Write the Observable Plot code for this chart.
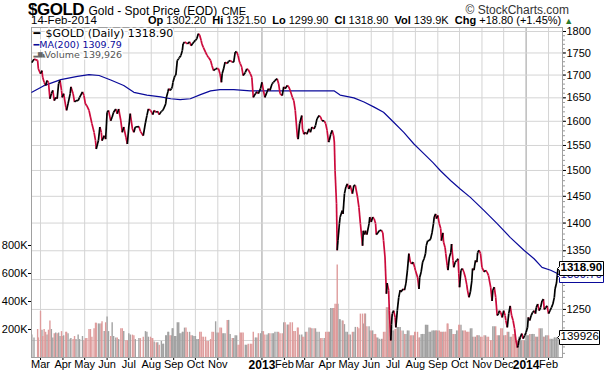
<!DOCTYPE html>
<html><head><meta charset="utf-8">
<script src="https://cdn.jsdelivr.net/npm/d3@7"></script>
<script src="https://cdn.jsdelivr.net/npm/@observablehq/plot@0.6"></script>
<style>
body{margin:0;background:#fff;}
#wrap{position:relative;width:607px;height:371px;overflow:hidden;font-family:"Liberation Sans",Arial,sans-serif;}
#wrap svg{position:absolute;left:0;top:0;}
.hdr{position:absolute;white-space:nowrap;color:#000;line-height:1;}
</style></head><body>
<div id="wrap"></div>
<script>
// ---------- data ----------
const dates = ["2012-02-18","2012-02-21","2012-02-26","2012-02-27","2012-03-01","2012-03-03","2012-03-04","2012-03-06","2012-03-08","2012-03-10","2012-03-12","2012-03-14","2012-03-16","2012-03-18","2012-03-20","2012-03-22","2012-03-24","2012-03-26","2012-03-28","2012-03-30","2012-03-31","2012-04-02","2012-04-05","2012-04-06","2012-04-08","2012-04-11","2012-04-12","2012-04-15","2012-04-17","2012-04-19","2012-04-22","2012-04-24","2012-04-28","2012-04-30","2012-05-02","2012-05-04","2012-05-07","2012-05-09","2012-05-11","2012-05-14","2012-05-16","2012-05-17","2012-05-20","2012-05-22","2012-05-24","2012-05-25","2012-05-28","2012-05-30","2012-06-01","2012-06-03","2012-06-06","2012-06-08","2012-06-10","2012-06-13","2012-06-15","2012-06-17","2012-06-20","2012-06-22","2012-06-24","2012-06-27","2012-06-29","2012-07-01","2012-07-03","2012-07-06","2012-07-08","2012-07-10","2012-07-15","2012-07-17","2012-07-21","2012-07-24","2012-07-26","2012-07-28","2012-07-31","2012-08-02","2012-08-03","2012-08-05","2012-08-08","2012-08-10","2012-08-12","2012-08-15","2012-08-17","2012-08-18","2012-08-21","2012-08-22","2012-08-24","2012-08-25","2012-08-27","2012-08-29","2012-08-30","2012-08-31","2012-09-02","2012-09-03","2012-09-04","2012-09-06","2012-09-08","2012-09-09","2012-09-11","2012-09-13","2012-09-14","2012-09-16","2012-09-18","2012-09-20","2012-09-23","2012-09-25","2012-09-27","2012-09-29","2012-10-01","2012-10-03","2012-10-05","2012-10-07","2012-10-09","2012-10-10","2012-10-12","2012-10-15","2012-10-17","2012-10-19","2012-10-22","2012-10-24","2012-10-26","2012-10-29","2012-10-31","2012-11-02","2012-11-04","2012-11-06","2012-11-07","2012-11-09","2012-11-11","2012-11-14","2012-11-16","2012-11-18","2012-11-21","2012-11-23","2012-11-25","2012-11-27","2012-11-29","2012-12-01","2012-12-02","2012-12-04","2012-12-06","2012-12-09","2012-12-11","2012-12-13","2012-12-16","2012-12-18","2012-12-20","2012-12-23","2012-12-25","2012-12-27","2012-12-30","2013-01-01","2013-01-03","2013-01-05","2013-01-08","2013-01-10","2013-01-12","2013-01-15","2013-01-17","2013-01-19","2013-01-22","2013-01-24","2013-01-26","2013-01-29","2013-01-31","2013-02-02","2013-02-05","2013-02-07","2013-02-09","2013-02-12","2013-02-14","2013-02-16","2013-02-19","2013-02-20","2013-02-22","2013-02-25","2013-02-26","2013-02-28","2013-03-02","2013-03-04","2013-03-07","2013-03-09","2013-03-11","2013-03-14","2013-03-16","2013-03-18","2013-03-21","2013-03-23","2013-03-25","2013-03-28","2013-03-30","2013-04-01","2013-04-03","2013-04-04","2013-04-06","2013-04-08","2013-04-10","2013-04-11","2013-04-12","2013-04-14","2013-04-15","2013-04-16","2013-04-18","2013-04-19","2013-04-22","2013-04-23","2013-04-25","2013-04-27","2013-04-29","2013-05-01","2013-05-03","2013-05-06","2013-05-08","2013-05-10","2013-05-13","2013-05-15","2013-05-17","2013-05-20","2013-05-21","2013-05-23","2013-05-24","2013-05-26","2013-05-29","2013-05-30","2013-06-01","2013-06-03","2013-06-05","2013-06-07","2013-06-08","2013-06-10","2013-06-12","2013-06-15","2013-06-17","2013-06-18","2013-06-20","2013-06-22","2013-06-23","2013-06-25","2013-06-26","2013-06-28","2013-06-29","2013-06-30","2013-07-02","2013-07-04","2013-07-05","2013-07-07","2013-07-09","2013-07-11","2013-07-12","2013-07-15","2013-07-17","2013-07-19","2013-07-21","2013-07-23","2013-07-25","2013-07-27","2013-07-29","2013-07-31","2013-08-01","2013-08-04","2013-08-06","2013-08-07","2013-08-09","2013-08-11","2013-08-13","2013-08-15","2013-08-16","2013-08-18","2013-08-20","2013-08-22","2013-08-24","2013-08-26","2013-08-27","2013-08-29","2013-08-30","2013-09-01","2013-09-03","2013-09-05","2013-09-06","2013-09-08","2013-09-09","2013-09-11","2013-09-12","2013-09-14","2013-09-15","2013-09-17","2013-09-19","2013-09-20","2013-09-22","2013-09-23","2013-09-25","2013-09-27","2013-09-29","2013-09-30","2013-10-01","2013-10-03","2013-10-05","2013-10-07","2013-10-09","2013-10-11","2013-10-12","2013-10-14","2013-10-16","2013-10-18","2013-10-19","2013-10-21","2013-10-23","2013-10-25","2013-10-26","2013-10-28","2013-10-30","2013-11-01","2013-11-04","2013-11-06","2013-11-08","2013-11-10","2013-11-13","2013-11-15","2013-11-16","2013-11-18","2013-11-20","2013-11-22","2013-11-24","2013-11-25","2013-11-27","2013-11-29","2013-12-01","2013-12-03","2013-12-04","2013-12-06","2013-12-08","2013-12-10","2013-12-12","2013-12-14","2013-12-16","2013-12-18","2013-12-20","2013-12-21","2013-12-22","2013-12-24","2013-12-26","2013-12-28","2013-12-30","2014-01-01","2014-01-03","2014-01-04","2014-01-06","2014-01-08","2014-01-10","2014-01-12","2014-01-14","2014-01-15","2014-01-17","2014-01-19","2014-01-21","2014-01-23","2014-01-25","2014-01-26","2014-01-28","2014-01-30","2014-02-01","2014-02-03","2014-02-05","2014-02-07","2014-02-09","2014-02-10","2014-02-12","2014-02-14"];
const closes = [1728,1736,1733,1714,1703,1710,1695,1684,1677,1688,1684,1648,1659,1666,1644,1651,1648,1681,1688,1666,1651,1659,1630,1623,1637,1659,1674,1659,1641,1644,1644,1651,1663,1655,1637,1633,1623,1609,1595,1577,1560,1543,1560,1588,1577,1560,1570,1563,1619,1623,1601,1609,1619,1626,1616,1626,1601,1577,1588,1567,1553,1588,1616,1584,1577,1588,1589,1579,1570,1597,1612,1626,1623,1618,1614,1623,1619,1621,1614,1621,1623,1626,1637,1651,1663,1670,1666,1670,1674,1684,1695,1699,1700,1733,1737,1740,1744,1756,1771,1775,1774,1771,1776,1767,1771,1776,1779,1783,1795,1791,1779,1771,1763,1752,1745,1740,1733,1721,1710,1714,1715,1714,1703,1684,1703,1714,1729,1726,1731,1733,1729,1729,1752,1753,1744,1729,1726,1718,1699,1706,1714,1712,1703,1695,1651,1659,1663,1659,1670,1684,1666,1651,1663,1670,1666,1681,1684,1688,1692,1681,1659,1655,1674,1670,1677,1674,1666,1651,1644,1623,1567,1563,1595,1612,1584,1573,1577,1573,1584,1577,1588,1584,1591,1605,1612,1609,1601,1601,1595,1581,1557,1560,1573,1581,1570,1557,1500,1436,1351,1368,1399,1411,1423,1417,1455,1468,1474,1464,1471,1455,1471,1471,1449,1429,1399,1359,1386,1379,1386,1379,1399,1411,1402,1411,1408,1399,1379,1382,1386,1387,1382,1368,1339,1276,1294,1282,1248,1200,1226,1243,1248,1237,1221,1248,1270,1282,1279,1284,1282,1294,1316,1345,1330,1327,1330,1321,1316,1304,1284,1304,1313,1330,1336,1345,1359,1368,1368,1371,1382,1399,1411,1417,1408,1414,1399,1390,1368,1382,1365,1356,1345,1324,1316,1339,1347,1362,1333,1321,1330,1333,1336,1310,1287,1316,1319,1313,1304,1291,1282,1270,1279,1298,1319,1316,1333,1330,1347,1351,1345,1321,1313,1316,1313,1307,1287,1264,1282,1287,1270,1240,1243,1248,1245,1237,1248,1240,1232,1221,1243,1256,1240,1232,1219,1200,1189,1192,1200,1205,1211,1203,1208,1213,1221,1237,1232,1240,1245,1248,1243,1253,1259,1248,1253,1264,1267,1250,1253,1256,1243,1248,1253,1259,1270,1284,1294,1318.9];
// volume, thousands
const volumes = [160,140,200,140,330,195,150,200,180,160,195,260,200,140,170,175,170,175,150,185,150,155,180,180,170,130,135,128,150,128,160,128,150,120,135,135,200,200,145,205,245,245,240,240,240,255,185,248,290,185,150,248,150,140,140,128,205,205,185,120,120,170,160,160,155,128,135,135,145,185,180,145,145,135,135,110,105,105,88,115,95,95,155,155,180,180,155,155,205,205,150,150,150,248,248,170,170,180,180,210,210,180,180,155,155,150,150,128,128,180,180,145,145,145,115,115,128,180,180,255,175,175,210,210,170,170,170,265,265,165,135,135,155,155,88,88,175,175,175,88,88,95,95,95,180,140,140,170,170,185,185,160,160,170,170,170,170,180,180,180,170,170,248,248,232,232,248,248,185,185,210,210,160,160,145,145,180,180,210,210,205,205,205,180,180,135,135,135,180,180,180,180,350,350,350,350,380,380,660,380,270,270,260,260,235,180,180,160,160,180,180,215,215,205,310,310,240,310,310,220,220,190,190,190,165,165,140,140,130,130,130,180,180,355,355,355,355,215,215,190,190,200,200,215,215,215,190,190,165,165,190,190,155,155,155,180,180,180,140,140,165,165,165,230,230,230,180,180,190,190,190,190,190,190,190,180,180,180,180,180,180,240,240,200,200,200,165,165,165,190,190,230,230,230,190,190,190,180,180,180,205,205,145,145,145,155,155,155,145,145,155,155,145,145,120,120,220,220,220,155,155,155,205,205,155,155,155,180,180,145,145,165,165,120,120,120,145,145,120,120,120,155,155,155,165,165,165,165,145,145,145,205,205,205,145,145,155,155,155,130,130,130,140,140,140,139.926];
// 200-day moving average
const maDates = ["2012-02-18","2012-03-05","2012-03-29","2012-04-21","2012-05-07","2012-05-21","2012-06-06","2012-06-24","2012-07-08","2012-07-26","2012-08-14","2012-08-28","2012-09-10","2012-09-24","2012-10-08","2012-10-22","2012-11-04","2012-11-23","2012-12-16","2013-02-09","2013-04-11","2013-04-19","2013-05-08","2013-05-22","2013-06-05","2013-06-18","2013-07-02","2013-07-16","2013-07-30","2013-08-13","2013-08-25","2013-09-05","2013-09-19","2013-10-02","2013-10-16","2013-11-04","2013-11-22","2013-12-10","2013-12-29","2014-01-12","2014-01-23","2014-02-04","2014-02-14"];
const maValues = [1662,1676,1690,1697,1701,1699,1689,1677,1662,1656,1652,1648,1646,1648,1657,1665,1668,1668,1665,1665,1665,1656,1650,1641,1630,1619,1598,1577,1553,1533,1516,1499,1480,1464,1448,1423,1399,1374,1351,1336,1321,1316,1309.79];
// axis ticks and labels
const priceTicks = [1200,1250,1300,1350,1400,1450,1500,1550,1600,1650,1700,1750,1800];
const priceMinorTicks = [1180,1190,1200,1210,1220,1230,1240,1250,1260,1270,1280,1290,1300,1310,1320,1330,1340,1350,1360,1370,1380,1390,1400,1410,1420,1430,1440,1450,1460,1470,1480,1490,1500,1510,1520,1530,1540,1550,1560,1570,1580,1590,1600,1610,1620,1630,1640,1650,1660,1670,1680,1690,1700,1710,1720,1730,1740,1750,1760,1770,1780,1790,1800];
const volumeTicks = [200,400,600,800];
const monthTicks = ["2012-03-01","2012-04-01","2012-05-01","2012-06-01","2012-07-01","2012-08-01","2012-09-01","2012-10-01","2012-11-01","2012-12-01","2013-02-01","2013-03-01","2013-04-01","2013-05-01","2013-06-01","2013-07-01","2013-08-01","2013-09-01","2013-10-01","2013-11-01","2013-12-01","2014-02-01"];
const monthLabelTicks = ["2012-03-01","2012-04-01","2012-05-01","2012-06-01","2012-07-01","2012-08-01","2012-09-01","2012-10-01","2012-11-01","2013-02-01","2013-03-01","2013-04-01","2013-05-01","2013-06-01","2013-07-01","2013-08-01","2013-09-01","2013-10-01","2013-11-01","2013-12-01","2014-02-01"];
const yearTicks = ["2013-01-01","2014-01-01"];
const symbol = "$GOLD", lastClose = "1318.90", lastMA = "1309.79", lastVolume = "139926";
const legendPrice = "$GOLD (Daily) 1318.90", legendMA = "MA(200) 1309.79", legendVol = "Volume 139,926";

// ---------- build ----------
const P = d => new Date(d + "T00:00Z");
const rows = dates.map((d, i) => ({date: P(d), close: closes[i], vol: volumes[i], down: i > 0 && closes[i] < closes[i - 1]}));
const segs = rows.slice(1).map((r, i) => ({x1: rows[i].date, y1: rows[i].close, x2: r.date, y2: r.close, down: r.close < rows[i].close}));
const maRows = maDates.map((d, i) => ({date: P(d), ma: maValues[i]}));
const last = rows[rows.length - 1];

const W = 607, H = 371;
const xDomain = [new Date("2012-02-17T13:00Z"), new Date("2014-02-20T07:00Z")];
const common = {width: W, height: H, marginTop: 27, marginBottom: 14, marginLeft: 31, marginRight: 45};
const yPriceDomain = [1173.6, 1809.5];
const font = {fontFamily: "'Liberation Sans', Arial, sans-serif", fontSize: "11px", overflow: "visible"};

const layerGrid = Plot.plot({...common, x: {type: "utc", domain: xDomain}, y: {type: "log", domain: yPriceDomain},
  style: {...font, background: "white"},
  marks: [
    Plot.gridX(monthTicks.map(P), {stroke: "#d4d4d4", strokeOpacity: 1}),
    Plot.gridX(yearTicks.map(P), {stroke: "#9a9a9a", strokeOpacity: 1}),
    Plot.gridY(priceTicks, {stroke: "#d4d4d4", strokeOpacity: 1}),
    Plot.axisY(priceMinorTicks, {anchor: "right", tickSize: 2, text: null, label: null, stroke: "#999"}),
    Plot.axisY(priceTicks, {anchor: "right", tickSize: 3, tickPadding: 1, tickFormat: d => String(d), label: null, fontSize: 11}),
    Plot.axisX(monthLabelTicks.map(P), {anchor: "bottom", tickSize: 3, tickPadding: 0, tickFormat: d3.utcFormat("%b"), label: null, fontSize: 11}),
    Plot.axisX(yearTicks.map(P), {anchor: "bottom", tickSize: 3, tickPadding: 0, tickFormat: d3.utcFormat("%Y"), label: null, fontSize: 12, fontWeight: "bold"}),
    Plot.frame({stroke: "#a0a0a0"})
  ]});

const layerVol = Plot.plot({...common, x: {type: "utc", domain: xDomain, axis: null}, y: {domain: [0, 2357]},
  style: {...font, background: "transparent"},
  marks: [
    Plot.ruleX(rows.filter(r => !r.down), {x: "date", y1: 0, y2: "vol", stroke: "#a2a2a2", strokeWidth: 1.4}),
    Plot.ruleX(rows.filter(r => r.down), {x: "date", y1: 0, y2: "vol", stroke: "#de9c9c", strokeWidth: 1.4}),
    Plot.axisY(volumeTicks, {anchor: "left", tickSize: 3, tickPadding: 1, tickFormat: d => d + "K", label: null, fontSize: 11}),
    Plot.tip([last], {x: "date", y: "vol", title: () => lastVolume, anchor: "left", fill: "white", stroke: "black",
      fontSize: 11.5, textPadding: 1, pointerSize: 4, pathFilter: "none"})
  ]});

const layerPrice = Plot.plot({...common, x: {type: "utc", domain: xDomain, axis: null}, y: {type: "log", domain: yPriceDomain, axis: null},
  style: {...font, background: "transparent"},
  marks: [
    Plot.line(maRows, {x: "date", y: "ma", stroke: "#0a0a9a", strokeWidth: 1.2}),
    Plot.link(segs.filter(s => s.down), {x1: "x1", y1: "y1", x2: "x2", y2: "y2", stroke: "#cc0a3c", strokeWidth: 1.7}),
    Plot.link(segs.filter(s => !s.down), {x1: "x1", y1: "y1", x2: "x2", y2: "y2", stroke: "#000", strokeWidth: 1.7}),
    Plot.text([legendPrice], {frameAnchor: "top-left", dx: 14, dy: 2, fontSize: 11, fontFamily: "DejaVu Sans", fill: "#000", stroke: "white", strokeWidth: 3, paintOrder: "stroke"}),
    Plot.text(["━"], {frameAnchor: "top-left", dx: 2, dy: 2, fontSize: 11, fontFamily: "DejaVu Sans", fill: "#000"}),
    Plot.text(["━" + legendMA], {frameAnchor: "top-left", dx: 2, dy: 14, fontSize: 9.5, fontFamily: "DejaVu Sans", fill: "#0a0a9a", stroke: "white", strokeWidth: 3, paintOrder: "stroke"}),
    Plot.text(["▂▆▄" ], {frameAnchor: "top-left", dx: 2, dy: 24, fontSize: 6, fontFamily: "DejaVu Sans", fill: "#666"}),
    Plot.text([legendVol], {frameAnchor: "top-left", dx: 13, dy: 24, fontSize: 9.5, fontFamily: "DejaVu Sans", fill: "#555", stroke: "white", strokeWidth: 3, paintOrder: "stroke"}),
    Plot.tip([{date: last.date, ma: maValues[maValues.length - 1]}], {x: "date", y: "ma", title: () => lastMA, anchor: "left", fill: "white",
      fontSize: 11.5, textPadding: 1, pointerSize: 4, pathFilter: "none", dy: 2}),
    Plot.tip([last], {x: "date", y: "close", title: () => lastClose, anchor: "left", fill: "white", stroke: "black",
      fontSize: 11.5, fontWeight: "bold", textPadding: 1, pointerSize: 4, pathFilter: "none"})
  ]});

const wrap = document.getElementById("wrap");
wrap.append(layerGrid, layerVol, layerPrice);
// MA callout in navy
const tips = layerPrice.querySelectorAll('g[aria-label="tip"]');
if (tips.length) tips[0].style.color = "#0a0a9a";

// header
const hdr = (html, css) => { const d = document.createElement("div"); d.className = "hdr"; d.style.cssText = css; d.innerHTML = html; wrap.append(d); };
hdr(`<b style="font-size:17px;letter-spacing:-0.5px">${symbol}</b> <span style="font-size:12px">Gold - Spot Price (EOD)</span> <span style="font-size:11px">CME</span>`, "left:28px;top:1px;");
hdr(`© StockCharts.com`, "right:38px;top:4px;font-size:12px;color:#333;");
hdr(`14-Feb-2014`, "left:31px;top:15px;font-size:11.5px;");
hdr(`<b>Op</b> 1302.20 &nbsp;<b>Hi</b> 1321.50 &nbsp;<b>Lo</b> 1299.90 &nbsp;<b>Cl</b> 1318.90 &nbsp;<b>Vol</b> 139.9K &nbsp;<b>Chg</b> +18.80 (+1.45%) <span style="color:#2a7a2a;font-size:9px">▲</span>`, "left:148px;top:15px;font-size:11px;");
</script>
</body></html>
